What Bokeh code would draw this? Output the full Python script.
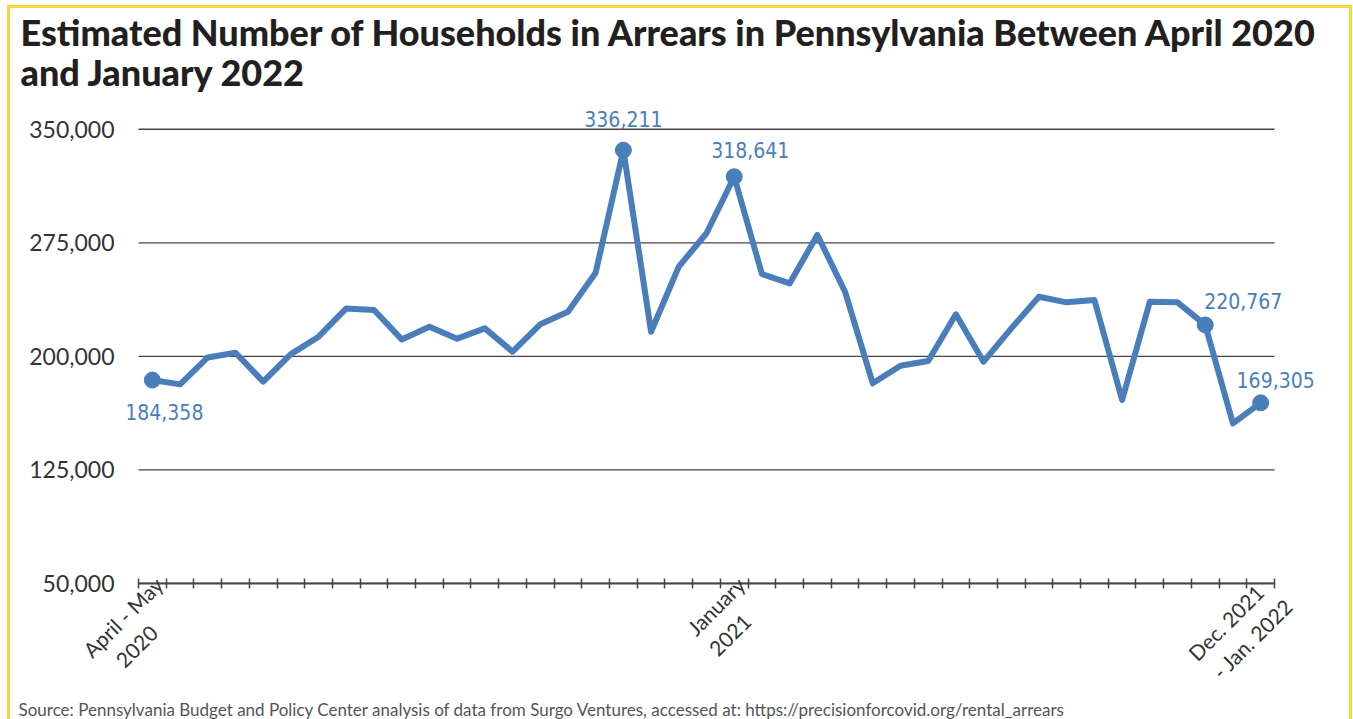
import math
from bokeh.plotting import figure
from bokeh.models import (ColumnDataSource, Range1d, FixedTicker, NumeralTickFormatter,
                          Title, InlineStyleSheet)
from bokeh.core.properties import value
from bokeh.embed import file_html
from bokeh.resources import INLINE

# ---------------- data ----------------
period_labels = ["April - May\n2020"] + [""] * 20 + ["January\n2021"] + [""] * 18 + ["Dec. 2021\n- Jan. 2022"]
households = [184358, 181500, 199300, 202400, 183300, 201500, 213000, 231700, 230600, 211200,
              219600, 211700, 218500, 203100, 221200, 229500, 255300, 336211, 216300, 259300,
              281300, 318641, 254400, 248200, 280200, 242700, 182200, 193800, 196900, 227800,
              196500, 218500, 239400, 235700, 237200, 171200, 236100, 235700, 220767, 155700,
              169305]
labeled_points = [0, 17, 21, 38, 40]
y_ticks = [50000, 125000, 200000, 275000, 350000]

title_lines = ["Estimated Number of Households in Arrears in Pennsylvania Between April 2020",
               "and January 2022"]
source_text = ("Source: Pennsylvania Budget and Policy Center analysis of data from Surgo Ventures, "
               "accessed at: https://precisionforcovid.org/rental_arrears")

# ---------------- styling ----------------
BLUE = "#4A7EBB"
W, H = 1353, 719
FL, FR, FT, FB = 127, 37, 100, 136          # frame borders (px)
CAT_PX = 27.71                               # px per category
AX_L, AX_R = 138, 1274                       # axis line extent (px)
label_offsets = {0: (12, 32), 17: (0, -31), 21: (16, -27), 38: (38, -24), 40: (15, -23)}
line_pad = {0: (0, 7), 21: (0, 4), 40: (2, 0)}   # nbsp padding to centre the label lines
LABEL_SHIFT = 0.62                           # label anchor shift (categories)
NARROW = "Liberation Sans Narrow, Noto Sans Condensed, DejaVu Sans Condensed, Roboto"
TITLE_FONT = "Lato Black, Lato"
TITLE_SIZE = "36px"

n = len(households)
x = list(range(n))
src = ColumnDataSource(dict(x=x, y=households))
lab_src = ColumnDataSource(dict(
    x=[x[i] for i in labeled_points],
    y=[households[i] for i in labeled_points],
    txt=[f"{households[i]:,}" for i in labeled_points],
    xo=[label_offsets[i][0] for i in labeled_points],
    yo=[label_offsets[i][1] for i in labeled_points],
))

border_css = InlineStyleSheet(css="""
:host { position: relative; }
:host::after { content: ''; position: absolute; left: 7px; top: 5px; width: 1345px; height: 714px;
  border: 3px solid #FDD43C; border-bottom: none; box-sizing: border-box; pointer-events: none; }
""")

x_lo = -0.5 - (AX_L - FL) / CAT_PX
x_hi = n - 0.5 + ((W - FR) - AX_R) / CAT_PX
p = figure(width=W, height=H, output_backend="svg", toolbar_location=None,
           x_range=Range1d(x_lo, x_hi),
           y_range=Range1d(50000, 369000),
           min_border_left=FL, min_border_right=FR, min_border_top=FT, min_border_bottom=FB,
           stylesheets=[border_css])
p.outline_line_color = None
p.background_fill_color = "white"
p.border_fill_color = "white"

# titles (the built-in title sits farthest from the frame)
p.title.text = title_lines[0]
p.title.align = "left"
p.title.offset = 20 - FL
p.title.standoff = -25
p.title.text_font = TITLE_FONT
p.title.text_font_size = TITLE_SIZE
p.title.text_font_style = "bold"
p.title.text_color = "#231F20"
p.add_layout(Title(text=title_lines[1], align="left", offset=20 - FL, standoff=13,
                   text_font=TITLE_FONT, text_font_size=TITLE_SIZE, text_font_style="bold",
                   text_color="#231F20"), "above")

# x axis: tick marks on category boundaries
lab_ticks = {}
for i, t in enumerate(period_labels):
    if t:
        lines = t.split("\n")
        padded = "\n".join(ln + "\u00a0" * k for ln, k in zip(lines, line_pad[i]))
        lab_ticks[i + LABEL_SHIFT] = padded
p.xaxis.ticker = FixedTicker(ticks=list(lab_ticks.keys()),
                             minor_ticks=[i - 0.5 for i in range(n + 1)])
p.xaxis.major_label_overrides = lab_ticks
p.xaxis.major_label_orientation = math.pi / 4
p.xaxis.bounds = (-0.5, n - 0.5)
p.xaxis.major_tick_in = 0
p.xaxis.major_tick_out = 0
p.xaxis.minor_tick_in = 5
p.xaxis.minor_tick_out = 5
p.xaxis.minor_tick_line_color = "#444444"
p.xaxis.minor_tick_line_width = 1.5
p.xaxis.axis_line_color = "#444444"
p.xaxis.axis_line_width = 2
p.xaxis.major_label_text_font = "Lato"
p.xaxis.major_label_text_font_size = "21px"
p.xaxis.major_label_text_color = "#333333"
p.xaxis.major_label_standoff = 3
p.xgrid.visible = False

# y axis
p.yaxis.ticker = FixedTicker(ticks=y_ticks)
p.yaxis.formatter = NumeralTickFormatter(format="0,0")
p.yaxis.axis_line_color = None
p.yaxis.major_tick_line_color = None
p.yaxis.minor_tick_line_color = None
p.yaxis.major_label_standoff = 7
p.yaxis.major_label_text_font = "Lato"
p.yaxis.major_label_text_font_size = "23px"
p.yaxis.major_label_text_color = "#333333"
p.ygrid.visible = False
# horizontal grid lines limited to the category extent
p.segment(x0=[-0.5] * len(y_ticks), x1=[n - 0.5] * len(y_ticks), y0=y_ticks, y1=y_ticks,
          line_color="#444444", line_width=1.3)

# series
p.line("x", "y", source=src, line_color=BLUE, line_width=6, line_join="round")
p.scatter("x", "y", source=lab_src, size=16, fill_color=BLUE, line_color=BLUE)
p.text("x", "y", text="txt", source=lab_src, x_offset="xo", y_offset="yo",
       text_align="center", text_baseline="middle", text_color=BLUE,
       text_font=value(NARROW), text_font_size="21px")

# source note
p.add_layout(Title(text=source_text, align="left", offset=18 - FL, standoff=-23,
                   text_font="Lato", text_font_size="17px", text_font_style="normal",
                   text_color="#555555"), "below")

open("out.html", "w").write(file_html(p, INLINE))
